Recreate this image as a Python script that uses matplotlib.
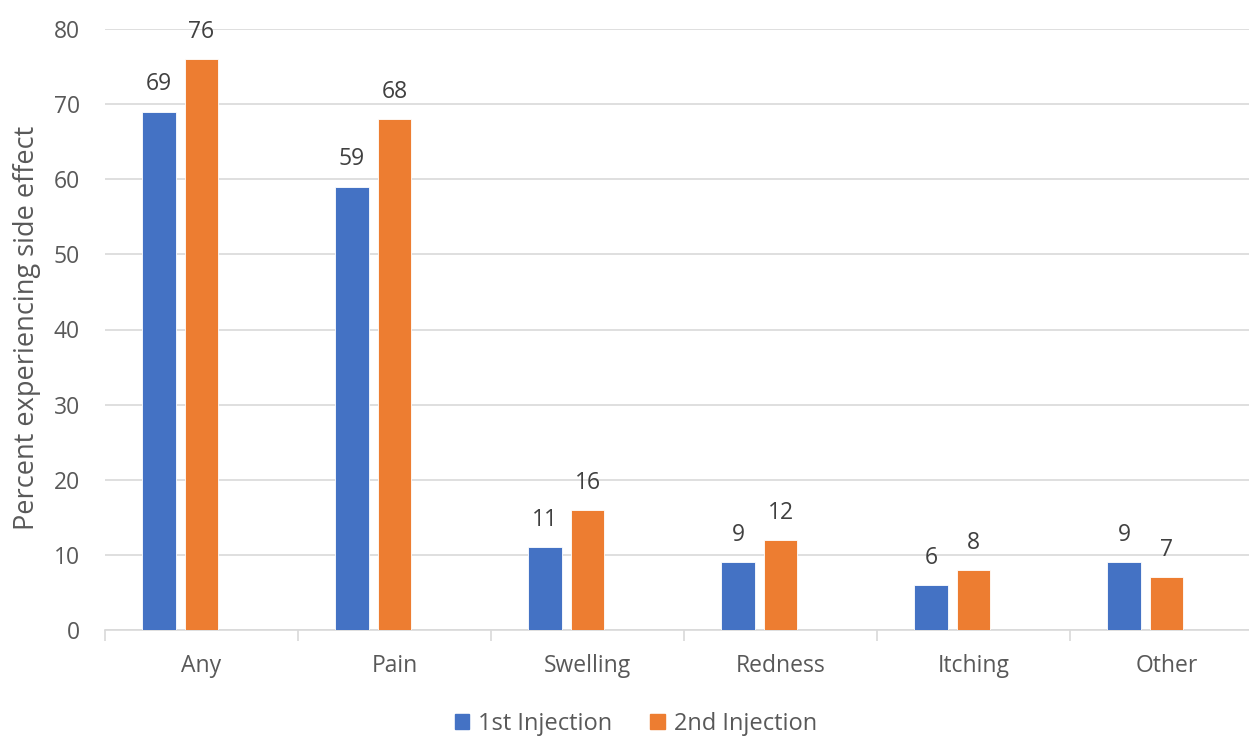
import numpy as np
import matplotlib
matplotlib.use("Agg")
import matplotlib.pyplot as plt
from matplotlib.patches import Patch

categories = ["Any", "Pain", "Swelling", "Redness", "Itching", "Other"]
first_inj = [69, 59, 11, 9, 6, 9]
second_inj = [76, 68, 16, 12, 8, 7]
series_names = ["1st Injection", "2nd Injection"]

BLUE = "#4472C4"
ORANGE = "#ED7D31"
TICK_GRAY = "#595959"
LABEL_GRAY = "#404040"
FS = 16.5
FS_TITLE = 19.5

plt.rcParams.update({
    "font.family": ["Open Sans", "DejaVu Sans"],
    "font.size": FS,
})

W, H = 1249, 738
fig = plt.figure(figsize=(W / 100, H / 100), dpi=100)
# axes spans x 105..1263 px (cropped on right), y 29..630 px
ax = fig.add_axes([105 / W, (H - 630) / H, (1263 - 105) / W, (630 - 29) / H])

x = np.arange(len(categories))
width = 0.176
b1 = ax.bar(x - 0.22, first_inj, width, color=BLUE, edgecolor="white", linewidth=0.6, zorder=3)
b2 = ax.bar(x, second_inj, width, color=ORANGE, edgecolor="white", linewidth=0.6, zorder=3)

for bars in (b1, b2):
    for r in bars:
        ax.annotate(f"{r.get_height():g}", (r.get_x() + r.get_width() / 2, r.get_height()),
                    xytext=(0, 11), textcoords="offset points", ha="center", va="bottom",
                    fontsize=FS, color=LABEL_GRAY)

ax.set_xlim(-0.5, len(categories) - 0.5)
ax.set_ylim(0, 80)
ax.set_yticks(range(0, 81, 10))
ax.yaxis.grid(True, color="#D9D9D9", linewidth=1.2, zorder=0)
ax.set_axisbelow(True)

for side in ("top", "right", "left"):
    ax.spines[side].set_visible(False)
ax.spines["bottom"].set_color("#D9D9D9")
ax.spines["bottom"].set_linewidth(1.2)

ax.set_xticks(x)
ax.set_xticklabels(categories)
ax.set_xticks(np.arange(len(categories) + 1) - 0.5, minor=True)
ax.tick_params(axis="x", which="major", length=0, pad=17, labelsize=FS, labelcolor=TICK_GRAY)
ax.tick_params(axis="x", which="minor", length=8, color="#D9D9D9", width=1.2)
ax.tick_params(axis="y", length=0, pad=18, labelsize=FS, labelcolor=TICK_GRAY)

fig.text(27 / W, 1 - 328 / H, "Percent experiencing side effect", rotation=90,
         ha="center", va="center", fontsize=FS_TITLE, color=TICK_GRAY)

handles = [Patch(color=BLUE), Patch(color=ORANGE)]
fig.legend(handles, series_names, loc="center", bbox_to_anchor=(636 / W, 1 - 724 / H),
           ncol=2, frameon=False, fontsize=FS + 0.5, labelcolor=TICK_GRAY,
           handlelength=0.6, handleheight=0.6, handletextpad=0.4, columnspacing=1.6)

fig.savefig("out.png", dpi=100)
